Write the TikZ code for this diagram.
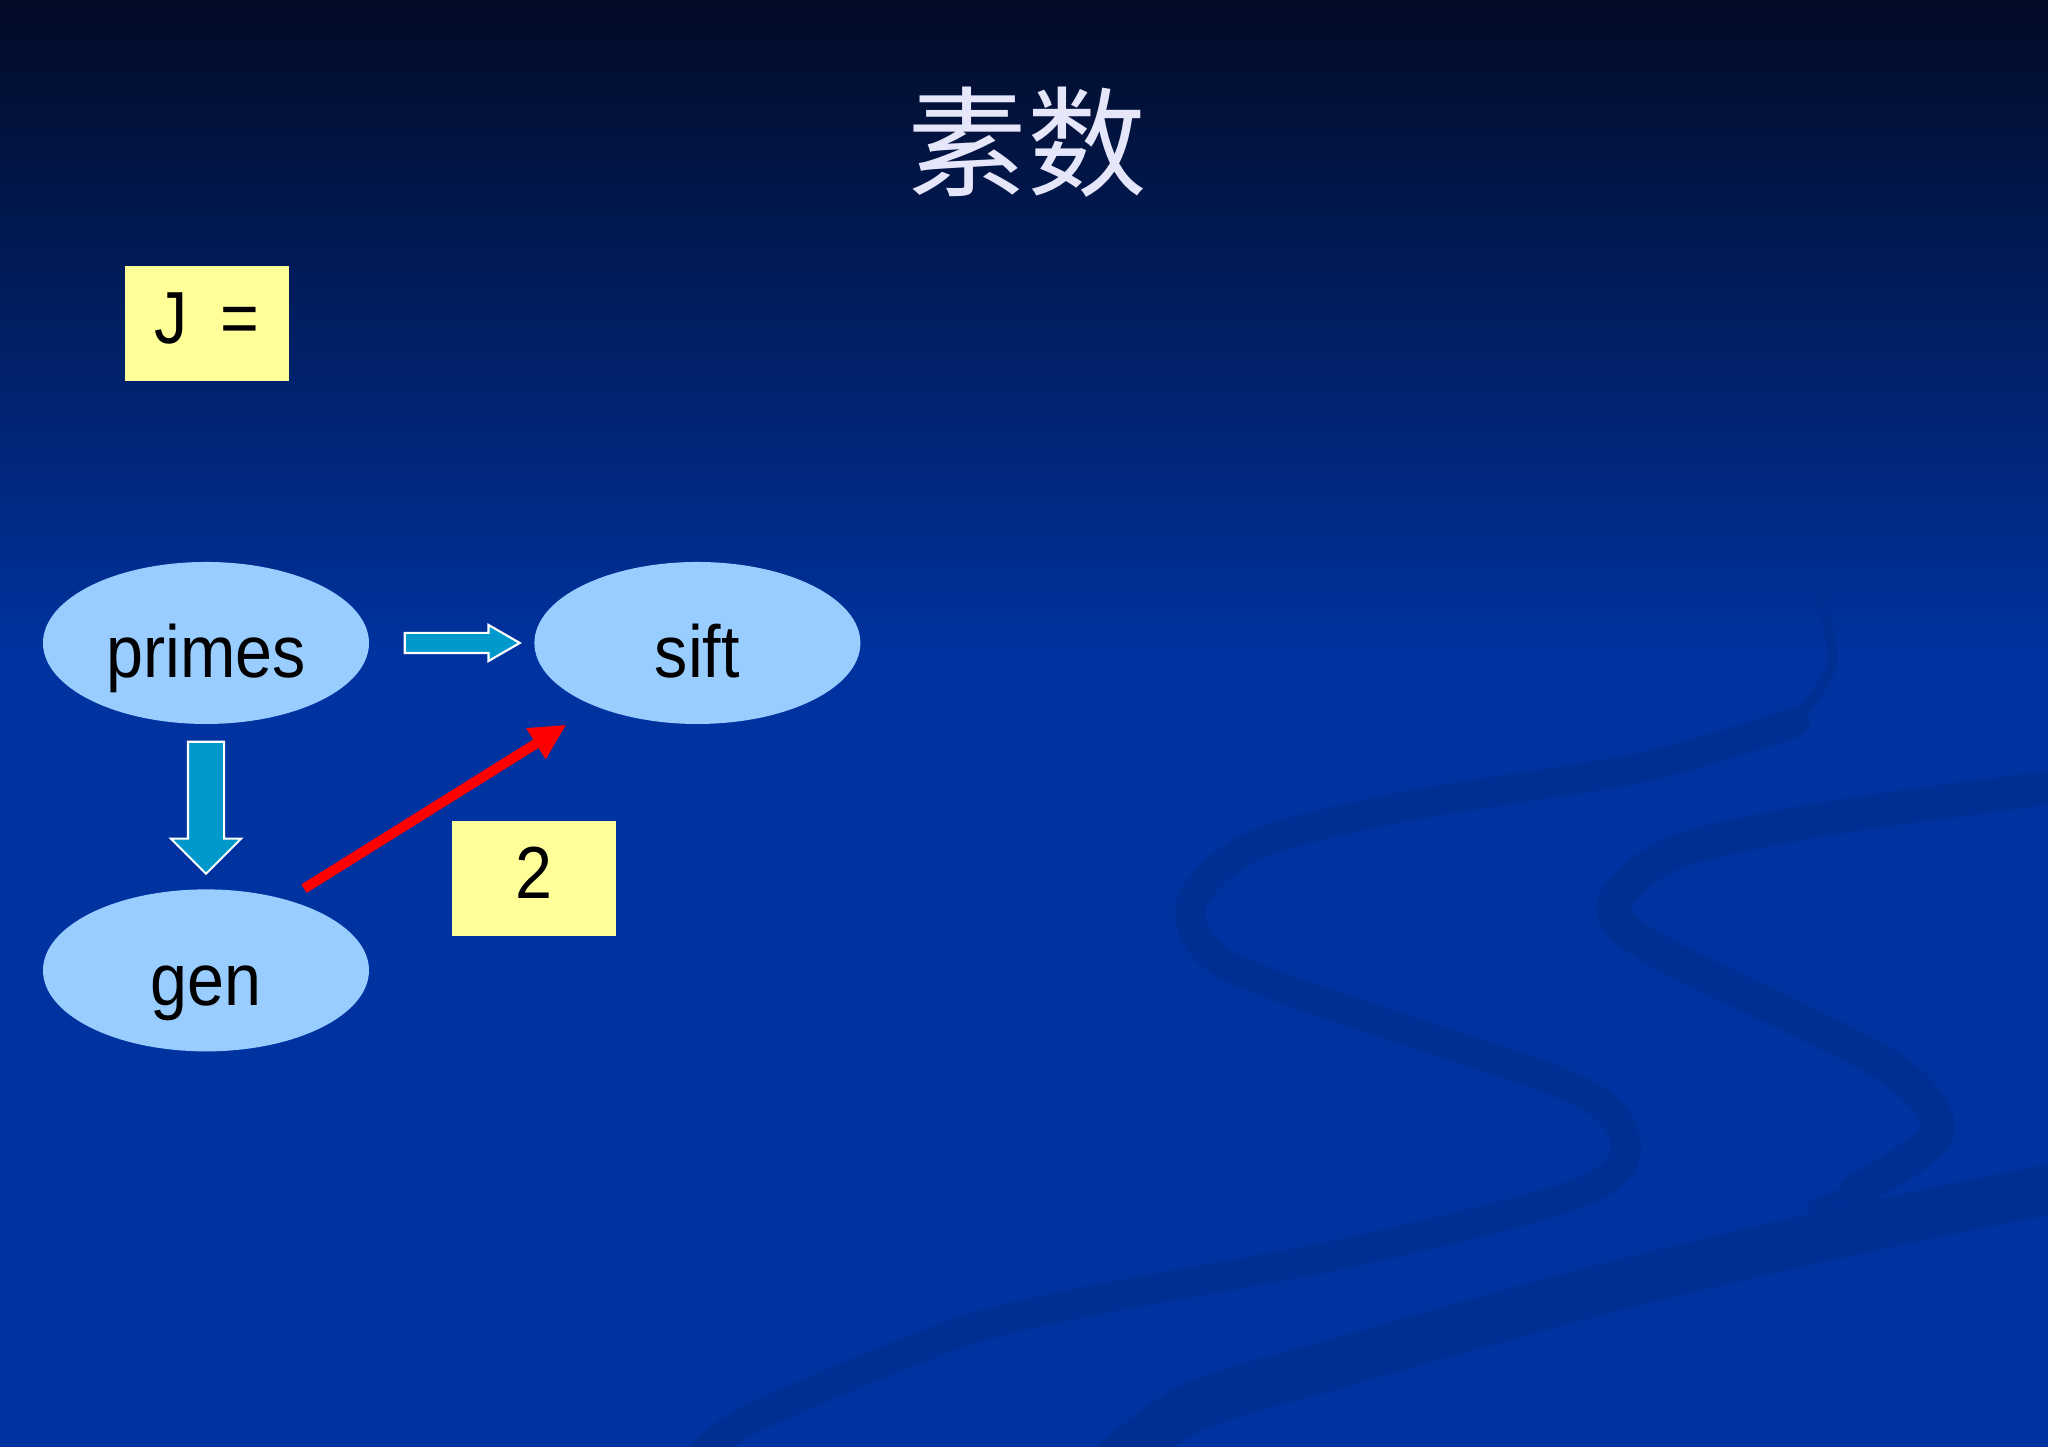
\documentclass[tikz,border=0pt]{standalone}
\usepackage{fontspec}
\setmainfont{Liberation Sans}
\newfontfamily\labelfont[FakeStretch=0.9]{Liberation Sans}
\newfontfamily\cjk{Noto Sans CJK SC}
\usepackage{tikz}
\usetikzlibrary{positioning, arrows.meta, shapes.geometric, shapes.arrows, calc}

\definecolor{slidetop}{HTML}{020B26}
\definecolor{slidemid}{HTML}{00246E}
\definecolor{slideblue}{HTML}{0033A0}
\definecolor{swoosh}{HTML}{002F94}
\definecolor{bubble}{HTML}{99CCFF}
\definecolor{note}{HTML}{FFFF99}
\definecolor{pipe}{HTML}{0099CC}
\definecolor{titletext}{HTML}{E6E6FA}

\begin{document}
\begin{tikzpicture}
    \tikzstyle{every node}=[font=\labelfont\fontsize{21}{24}\selectfont]
    \tikzstyle{stage}=[ellipse, fill=bubble, minimum width=3.26cm, minimum height=1.62cm, inner sep=0pt, text height=0.855cm, text depth=0.155cm]
    \tikzstyle{notebox}=[rectangle, fill=note, minimum width=1.64cm, minimum height=1.15cm, inner sep=0pt, text height=0.53cm, text depth=0.13cm]
    \tikzstyle{flow}=[single arrow, fill=pipe, draw=white, line width=0.6pt, inner sep=0pt, single arrow head indent=0pt]
    \tikzstyle{wave}=[swoosh, line cap=round, line join=round]
    \tikzset{node distance=1.64cm}

    % slide background
    \useasboundingbox (0,0) rectangle (20.48,14.47);
    \fill[slideblue] (0,0) rectangle (20.48,14.47);
    \shade[top color=slidetop, middle color=slidemid, bottom color=slideblue] (0,7.9) rectangle (20.48,14.47);
    \begin{scope}
    \clip (0,0) rectangle (20.48,14.47);
    \draw[wave, line width=0.1cm] plot[smooth] coordinates {(18.19,8.57) (18.32,7.83) (17.95,7.25)};
    \draw[wave, line width=0.3cm] plot[smooth] coordinates {(17.95,7.25) (16.44,6.80) (14.02,6.40) (12.51,6.00) (11.91,5.42) (12.21,4.85) (13.72,4.28) (15.84,3.54) (16.26,2.96) (15.72,2.51) (13.42,1.93) (11.00,1.48) (9.59,1.14) (7.55,0.30) (7.00,-0.10)};
    \draw[wave, line width=0.34cm] plot[smooth] coordinates {(20.70,6.62) (18.25,6.28) (16.74,5.94) (16.14,5.42) (16.56,4.97) (18.86,3.82) (19.37,3.14) (18.56,2.56)};
    \draw[wave, line width=0.15cm] plot[smooth] coordinates {(18.56,2.56) (18.15,2.40)};
    \draw[wave, line width=0.5cm] plot[smooth] coordinates {(20.70,2.62) (18.25,2.11) (15.84,1.53) (13.42,0.85) (11.91,0.39) (11.00,-0.30)};
    \end{scope}

    \node[font=\cjk\fontsize{34}{40}\selectfont, text=titletext] (title) at (10.27,13.05) {素数};
    \node[notebox] (j) at (2.07,11.235) {J\hspace{0.45em}=};

    \node[stage] (primes) at (2.06,8.04) {primes};
    \node[stage, right=of primes] (sift) {sift};
    \node[stage, below=of primes] (gen) {gen};
    \node[notebox] (two) at (5.335,5.685) {2};

    \node[flow, minimum height=1.15cm, inner ysep=0.09cm, single arrow head extend=0.08cm, single arrow tip angle=60, right=0.34cm of primes] (next) {};
    \node[flow, shape border rotate=270, minimum height=1.32cm, inner xsep=0.17cm, single arrow head extend=0.17cm, single arrow tip angle=90, below=0.16cm of primes] (down) {};

    \coordinate (tail) at ($(gen.north)+(0.98,0)$);
    \coordinate (tip) at ($(sift.south)+(-1.31,0)$);
    \draw[red, line width=0.1cm, -{Triangle[length=0.36cm, width=0.34cm]}] (tail) -- (tip);
\end{tikzpicture}
\end{document}
